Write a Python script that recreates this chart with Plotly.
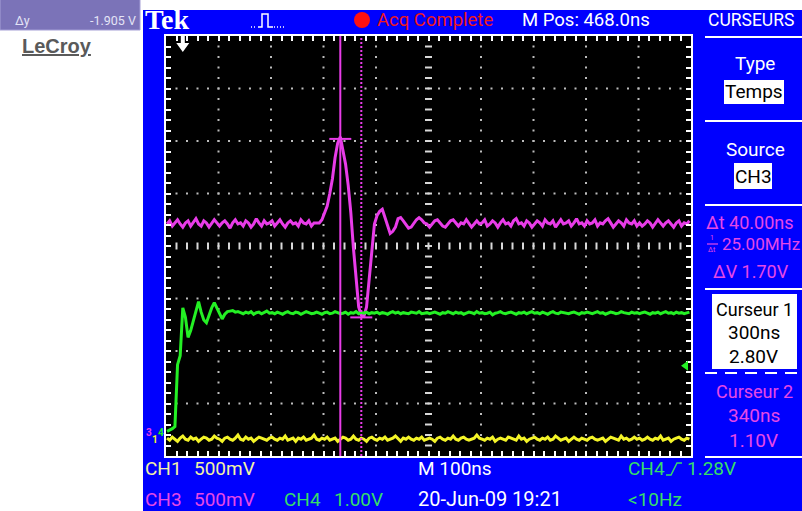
import plotly.graph_objects as go

# ---------------- acquisition settings ----------------
M_POS_NS = 468.0           # time at the centre of the screen
NS_PER_DIV = 100.0
H_DIVS, V_DIVS = 10, 8

CH1_V_PER_DIV = 0.5
CH3_V_PER_DIV = 0.5
CH4_V_PER_DIV = 1.0
CH1_GROUND_DIV = 0.32      # ground reference, divisions above the bottom edge
CH3_GROUND_DIV = 0.44
CH4_GROUND_DIV = 0.44
TRIG_LEVEL_V = 1.28

CURSOR1_NS, CURSOR2_NS = 300.0, 340.0
CURSOR1_V, CURSOR2_V = 2.80, 1.10

SAMPLE_T0_NS = -30.0
SAMPLE_DT_NS = 5.0

# ---------------- record (volts, one value per sample) ----------------
CH3_V = [
    1.99, 2.02, 1.97, 2.00, 2.03, 1.99, 1.96, 2.00, 2.02, 1.97, 2.00, 2.04, 1.99, 1.97, 2.02, 2.00, 1.96, 1.99, 2.03, 2.00,
    1.97, 2.00, 2.02, 1.99, 1.95, 2.00, 2.03, 1.99, 2.00, 1.97, 2.02, 2.00, 1.96, 1.99, 2.04, 2.00, 1.97, 2.02, 1.99, 2.00,
    2.02, 1.97, 2.00, 2.03, 1.99, 1.96, 2.00, 2.02, 1.99, 2.00, 1.97, 2.03, 2.00, 1.99, 2.02, 1.97, 2.00, 2.00, 2.00, 2.03,
    2.09, 2.16, 2.28, 2.42, 2.62, 2.76, 2.82, 2.70, 2.56, 2.36, 2.10, 1.76, 1.46, 1.20, 1.12, 1.11, 1.20, 1.48, 1.78, 1.99,
    2.07, 2.11, 2.13, 2.06, 1.97, 1.90, 1.92, 1.96, 2.04, 2.05, 2.02, 1.98, 1.95, 1.96, 2.00, 2.03, 2.05, 2.03, 2.00, 1.99,
    1.96, 1.99, 2.02, 2.03, 2.00, 1.97, 1.96, 1.99, 2.02, 2.03, 2.00, 1.97, 2.00, 1.99, 2.03, 2.00, 1.96, 1.99, 2.02, 1.99,
    2.00, 2.03, 1.97, 1.99, 2.02, 2.00, 1.96, 2.00, 2.03, 1.99, 2.00, 1.97, 2.02, 2.04, 1.99, 2.00, 1.97, 2.02, 2.00, 1.96,
    1.99, 2.02, 2.00, 1.97, 2.03, 2.00, 1.99, 2.02, 1.96, 2.00, 2.03, 1.99, 2.00, 2.02, 1.97, 2.00, 2.04, 1.99, 2.00, 1.97,
    2.02, 1.99, 2.00, 2.03, 1.97, 2.00, 1.99, 2.02, 2.04, 2.00, 1.96, 1.99, 2.02, 2.00, 1.97, 2.03, 2.00, 1.99, 2.02, 1.97,
    2.00, 1.97, 1.99, 2.02, 2.00, 1.96, 1.99, 2.03, 2.00, 1.97, 2.00, 2.02, 1.99, 1.96, 2.00, 2.02, 1.97, 2.00, 1.99, 2.02,
]

CH4_V = [
    0.03, 0.05, 0.08, 0.12, 1.30, 1.47, 2.38, 2.20, 1.82, 1.95, 2.14, 2.32, 2.50, 2.30, 2.15, 2.10, 2.25, 2.38, 2.48, 2.38,
    2.25, 2.17, 2.26, 2.31, 2.32, 2.33, 2.30, 2.31, 2.29, 2.27, 2.30, 2.28, 2.31, 2.26, 2.29, 2.30, 2.27, 2.29, 2.32, 2.28,
    2.29, 2.27, 2.30, 2.28, 2.26, 2.29, 2.31, 2.28, 2.27, 2.30, 2.29, 2.26, 2.28, 2.31, 2.29, 2.27, 2.28, 2.30, 2.28, 2.26,
    2.29, 2.30, 2.27, 2.28, 2.31, 2.29, 2.27, 2.28, 2.30, 2.26, 2.29, 2.28, 2.31, 2.27, 2.29, 2.28, 2.30, 2.27, 2.29, 2.28,
    2.30, 2.27, 2.29, 2.28, 2.26, 2.29, 2.31, 2.28, 2.30, 2.27, 2.29, 2.28, 2.27, 2.30, 2.29, 2.28, 2.31, 2.27, 2.28, 2.29,
    2.27, 2.29, 2.30, 2.28, 2.26, 2.29, 2.28, 2.31, 2.29, 2.27, 2.30, 2.28, 2.29, 2.26, 2.28, 2.30, 2.29, 2.27, 2.31, 2.28,
    2.29, 2.27, 2.28, 2.30, 2.25, 2.28, 2.29, 2.31, 2.28, 2.27, 2.29, 2.30, 2.28, 2.26, 2.29, 2.28, 2.30, 2.27, 2.29, 2.31,
    2.28, 2.29, 2.27, 2.30, 2.28, 2.26, 2.29, 2.31, 2.28, 2.27, 2.30, 2.29, 2.28, 2.27, 2.29, 2.30, 2.28, 2.26, 2.29, 2.28,
    2.30, 2.28, 2.27, 2.29, 2.31, 2.28, 2.29, 2.26, 2.28, 2.30, 2.29, 2.27, 2.28, 2.31, 2.29, 2.28, 2.27, 2.30, 2.28, 2.29,
    2.27, 2.29, 2.30, 2.28, 2.26, 2.29, 2.28, 2.30, 2.27, 2.29, 2.31, 2.28, 2.29, 2.27, 2.30, 2.28, 2.29, 2.27, 2.28, 2.30,
]

CH1_V = [
    0.01, -0.01, 0.02, 0.00, -0.02, 0.01, 0.03, 0.00, -0.01, 0.02, 0.00, 0.01, -0.02, 0.00, 0.02, 0.01, -0.01, 0.00, 0.03, 0.01,
    0.00, -0.02, 0.01, 0.02, 0.00, -0.01, 0.01, 0.04, 0.00, -0.01, 0.02, 0.00, 0.01, -0.02, 0.00, 0.02, 0.01, 0.00, -0.01, 0.01,
    0.02, 0.00, -0.01, 0.01, 0.00, 0.03, -0.01, 0.00, 0.01, -0.02, 0.01, 0.00, 0.02, -0.01, 0.00, 0.01, 0.04, 0.00, -0.01, 0.01,
    0.00, 0.02, -0.01, 0.00, 0.01, -0.02, 0.00, 0.02, 0.01, -0.01, 0.00, 0.03, 0.00, -0.01, 0.01, 0.00, -0.02, 0.01, 0.02, 0.00,
    -0.01, 0.01, 0.00, 0.02, -0.01, 0.00, 0.01, 0.03, 0.00, -0.02, 0.01, 0.00, 0.02, 0.00, -0.01, 0.01, 0.00, 0.02, -0.01, 0.00,
    0.01, 0.00, -0.02, 0.01, 0.02, 0.00, -0.01, 0.01, 0.00, 0.03, 0.00, -0.01, 0.01, 0.02, 0.00, -0.01, 0.00, 0.01, 0.04, 0.01,
    0.00, -0.01, 0.01, 0.00, 0.02, -0.02, 0.00, 0.01, 0.00, -0.01, 0.02, 0.01, 0.00, -0.01, 0.03, 0.00, 0.01, -0.02, 0.00, 0.01,
    0.02, 0.00, -0.01, 0.01, 0.00, 0.02, -0.01, 0.00, 0.03, 0.01, -0.01, 0.00, 0.01, -0.02, 0.00, 0.02, 0.00, -0.01, 0.01, 0.00,
    -0.01, 0.01, 0.02, 0.00, -0.01, 0.00, 0.01, -0.02, 0.00, 0.02, 0.01, 0.00, -0.01, 0.03, 0.00, 0.01, -0.01, 0.00, 0.02, 0.00,
    0.01, -0.01, 0.00, 0.02, 0.00, -0.01, 0.01, 0.00, 0.03, -0.01, 0.00, 0.01, -0.02, 0.00, 0.01, 0.02, 0.00, -0.01, 0.01, 0.00,
]

# ---------------- colours / fonts ----------------
BLUE = "#0000fe"
MAGENTA = "#e83ce8"
GREEN = "#24f024"
YELLOW = "#f4f428"
TXT_MAG = "#e648e6"
TXT_GRN = "#36dc6a"
TXT_YEL = "#f2f2a6"
DOT = "#bcbcbc"
SCOPE_FONT = "Roboto, sans-serif"
FS = 19                     # default readout font size

W, H = 802, 511
PL, PR, PT, PB = 166, 691, 36, 456      # graticule edges in screen pixels
PW, PH = PR - PL, PB - PT


def px(x):
    return (x - PL) / PW


def py(y):
    return (PB - y) / PH


def ch_range(v_per_div, ground_div):
    return [-ground_div * v_per_div, (V_DIVS - ground_div) * v_per_div]


t_ns = [SAMPLE_T0_NS + i * SAMPLE_DT_NS for i in range(len(CH3_V))]
t_range = [M_POS_NS - H_DIVS / 2 * NS_PER_DIV, M_POS_NS + H_DIVS / 2 * NS_PER_DIV]

fig = go.Figure()

# ---- graticule: dotted division lines ----
gx, gy = [], []
for k in range(1, H_DIVS):
    if k == H_DIVS // 2:
        continue
    for m in range(1, V_DIVS * 5):
        gx.append(k)
        gy.append(-V_DIVS / 2 + m * 0.2)
for j in range(1, V_DIVS):
    if j == V_DIVS // 2:
        continue
    for m in range(1, H_DIVS * 5):
        gx.append(m * 0.2)
        gy.append(-V_DIVS / 2 + j)
fig.add_trace(go.Scatter(x=gx, y=gy, mode="markers", hoverinfo="skip",
                         marker=dict(symbol="square", size=2, color=DOT, line=dict(width=0))))

# ---- graticule: centre cross ticks ----
fig.add_trace(go.Scatter(x=[m * 0.2 for m in range(1, H_DIVS * 5)], y=[0] * (H_DIVS * 5 - 1),
                         mode="markers", hoverinfo="skip",
                         marker=dict(symbol="line-ns", size=5, line=dict(width=2, color="#d8d8d8"))))
fig.add_trace(go.Scatter(x=[H_DIVS / 2] * (V_DIVS * 5 - 1), y=[-V_DIVS / 2 + m * 0.2 for m in range(1, V_DIVS * 5)],
                         mode="markers", hoverinfo="skip",
                         marker=dict(symbol="line-ew", size=5, line=dict(width=2, color="#d8d8d8"))))

# ---- waveforms ----
fig.add_trace(go.Scatter(x=t_ns, y=CH4_V, xaxis="x2", yaxis="y3", mode="lines",
                         line=dict(color=GREEN, width=3), hoverinfo="skip"))
fig.add_trace(go.Scatter(x=t_ns, y=CH3_V, xaxis="x2", yaxis="y2", mode="lines",
                         line=dict(color=MAGENTA, width=3), hoverinfo="skip"))
fig.add_trace(go.Scatter(x=t_ns, y=CH1_V, xaxis="x2", yaxis="y4", mode="lines",
                         line=dict(color=YELLOW, width=3), hoverinfo="skip"))

shapes = []
ann = []


def rect(x0, y0, x1, y1, fill, line_color=None, layer="above", lw=0):
    shapes.append(dict(type="rect", xref="paper", yref="paper", x0=px(x0), x1=px(x1), y0=py(y1), y1=py(y0),
                       fillcolor=fill, layer=layer,
                       line=dict(width=lw, color=line_color or fill)))


def hline(x0, x1, y, color="white", width=2, dash="solid"):
    shapes.append(dict(type="line", xref="paper", yref="paper", x0=px(x0), x1=px(x1), y0=py(y), y1=py(y),
                       line=dict(color=color, width=width, dash=dash)))


def label(text, x, y, color, size=FS, xanchor="left", family=SCOPE_FONT, **extra):
    font = dict(family=family, size=size, color=color)
    font.update(extra.pop("font_extra", {}))
    ann.append(dict(text=text, x=px(x), y=py(y), xref="paper", yref="paper", xanchor=xanchor,
                    yanchor="middle", showarrow=False, font=font, borderpad=0, **extra))


# ---- page background pieces (white margin at left and top) ----
rect(0, 0, 143, H, "white", layer="below")
rect(0, 0, W, 10, "white", layer="below")

# LeCroy readout box
rect(0, -2, 140, 30, "#7b73b8", line_color="#a59fd6", lw=1)
label("Δy", 14, 21, "#e4e4f6", size=12.5)
label("-1.905 V", 137, 21, "#e4e4f6", size=12.5, xanchor="right")
label("LeCroy", 21, 46, "#5a5a5a", size=20, family="Liberation Sans, Arial, sans-serif",
      font_extra=dict(weight="bold", lineposition="under"))

# ---- top status bar ----
label("Tek", 144, 20, "white", size=28, family="Liberation Serif, DejaVu Serif, serif",
      font_extra=dict(weight="bold"))
# trigger-type glyph
shapes.append(dict(type="path", xref="paper", yref="paper",
                   path="M {} {} L {} {} L {} {} L {} {} L {} {} L {} {}".format(
                       px(258), py(27), px(262), py(27), px(262), py(14), px(268), py(14),
                       px(268), py(27), px(273), py(27)),
                   line=dict(color="white", width=1.5)))
hline(251, 257, 27, color="white", width=1.5, dash="1px,2px")
hline(274, 286, 27, color="white", width=1.5, dash="1px,2px")
shapes.append(dict(type="circle", xref="paper", yref="paper", x0=px(354), x1=px(370), y0=py(28), y1=py(12),
                   fillcolor="#ff1010", line=dict(width=0)))
label("Acq Complete", 376, 20, "#ee1a1a", size=18.5)
label(f"M Pos: {M_POS_NS:.1f}ns", 521, 20, "white", size=18.5)
label("CURSEURS", 707, 20, "white", size=17.5)

# ---- right-hand cursor menu ----
for yy in (37, 121, 205, 289, 457):
    hline(705, W, yy)
hline(705, W, 373, dash="12px,8px")
label("Type", 755, 64, "white", xanchor="center")
rect(724, 80, 784, 104, "white")
label("Temps", 754, 92, "black", xanchor="center")
label("Source", 755, 149, "white", xanchor="center")
rect(734, 163, 772, 189, "white")
label("CH3", 753, 176, "black", xanchor="center")

dt_ns = CURSOR2_NS - CURSOR1_NS
label(f"Δt {dt_ns:.2f}ns", 705, 222, TXT_MAG, size=18)
label("1", 712, 238, TXT_MAG, size=7, xanchor="center")
hline(707, 718, 244, color=TXT_MAG, width=1.2)
label("Δt", 712, 250, TXT_MAG, size=7, xanchor="center")
label(f"{1000.0 / dt_ns:.2f}MHz", 721, 244, TXT_MAG, size=17)
label(f"ΔV {abs(CURSOR1_V - CURSOR2_V):.2f}V", 751, 271, TXT_MAG, size=18, xanchor="center")

rect(712, 294, 797, 369, "white")
label("Curseur 1", 754, 309, "black", size=18, xanchor="center")
label(f"{CURSOR1_NS:.0f}ns", 754, 333, "black", xanchor="center")
label(f"{CURSOR1_V:.2f}V", 753, 356, "black", xanchor="center")
label("Curseur 2", 754, 391, TXT_MAG, size=18, xanchor="center")
label(f"{CURSOR2_NS:.0f}ns", 754, 415, TXT_MAG, xanchor="center")
label(f"{CURSOR2_V:.2f}V", 753, 440, TXT_MAG, xanchor="center")

# ---- bottom status lines ----
label("CH1", 144, 469, TXT_YEL)
label(f"{CH1_V_PER_DIV * 1000:.0f}mV", 193, 469, TXT_YEL)
label(f"M {NS_PER_DIV:.0f}ns", 417, 469, "white")
label("CH4", 627, 469, TXT_GRN)
shapes.append(dict(type="path", xref="paper", yref="paper",
                   path="M {} {} L {} {} L {} {} L {} {}".format(px(666), py(475), px(671), py(475),
                                                                 px(677), py(463), px(682), py(463)),
                   line=dict(color=TXT_GRN, width=1.5)))
label(f"{TRIG_LEVEL_V:.2f}V", 686, 469, TXT_GRN)
label("CH3", 144, 499, TXT_MAG)
label(f"{CH3_V_PER_DIV * 1000:.0f}mV", 193, 499, TXT_MAG)
label("CH4", 283, 499, TXT_GRN)
label(f"{CH4_V_PER_DIV:.2f}V", 333, 499, TXT_GRN)
label("20-Jun-09 19:21", 417, 499, "white", size=20)
label("<10Hz", 627, 499, TXT_GRN)

# ---- channel ground markers on the left edge ----
for txt, col, yref, xs in (("3", MAGENTA, "y2", -17), ("1", YELLOW, "y4", -11), ("4", GREEN, "y3", -5)):
    ann.append(dict(text=txt, x=0, y=0, xref="paper", yref=yref, xanchor="center", yanchor="middle",
                    xshift=xs, showarrow=False, borderpad=0,
                    font=dict(family=SCOPE_FONT, size=10, color=col, weight="bold")))

# ---- trigger position (t = 0) and trigger level markers ----
shapes.append(dict(type="path", xref="x2", xsizemode="pixel", xanchor=0,
                   yref="paper", ysizemode="pixel", yanchor=1,
                   path="M -2 0 L 2 0 L 2 -7 L 6.5 -7 L 0 -16 L -6.5 -7 L -2 -7 Z",
                   fillcolor="white", line=dict(width=0)))
shapes.append(dict(type="path", xref="paper", xsizemode="pixel", xanchor=1,
                   yref="y3", ysizemode="pixel", yanchor=TRIG_LEVEL_V,
                   path="M -10 0 L -3 5 L -3 -5 Z", fillcolor=GREEN, line=dict(width=0)))

# ---- cursors ----
shapes.append(dict(type="line", xref="x2", yref="paper", x0=CURSOR1_NS, x1=CURSOR1_NS, y0=0, y1=1,
                   line=dict(color=MAGENTA, width=2)))
shapes.append(dict(type="line", xref="x2", yref="paper", x0=CURSOR2_NS, x1=CURSOR2_NS, y0=0, y1=1,
                   line=dict(color=MAGENTA, width=2, dash="2px,2px")))
for c_t, c_v in ((CURSOR1_NS, CURSOR1_V), (CURSOR2_NS, CURSOR2_V)):
    shapes.append(dict(type="line", xref="x2", xsizemode="pixel", xanchor=c_t, x0=-11, x1=11,
                       yref="y2", y0=c_v, y1=c_v, line=dict(color=MAGENTA, width=2)))

axis_common = dict(showticklabels=False, showgrid=False, zeroline=False, fixedrange=True)
fig.update_layout(
    width=W, height=H, autosize=False,
    margin=dict(l=PL, r=W - PR, t=PT, b=H - PB, pad=0),
    paper_bgcolor=BLUE, plot_bgcolor="black", showlegend=False,
    xaxis=dict(range=[0, H_DIVS], tick0=0, dtick=0.2, ticks="inside", ticklen=5, tickwidth=2,
               tickcolor="white", showline=True, linecolor="white", linewidth=2, mirror="ticks",
               **axis_common),
    yaxis=dict(range=[-V_DIVS / 2, V_DIVS / 2], tick0=0, dtick=0.2, ticks="inside", ticklen=5, tickwidth=2,
               tickcolor="white", showline=True, linecolor="white", linewidth=2, mirror="ticks",
               **axis_common),
    xaxis2=dict(range=t_range, overlaying="x", visible=False, **axis_common),
    yaxis2=dict(range=ch_range(CH3_V_PER_DIV, CH3_GROUND_DIV), overlaying="y", visible=False, **axis_common),
    yaxis3=dict(range=ch_range(CH4_V_PER_DIV, CH4_GROUND_DIV), overlaying="y", visible=False, **axis_common),
    yaxis4=dict(range=ch_range(CH1_V_PER_DIV, CH1_GROUND_DIV), overlaying="y", visible=False, **axis_common),
    shapes=shapes, annotations=ann,
)

fig.write_html("out.html", config={"displayModeBar": False})
